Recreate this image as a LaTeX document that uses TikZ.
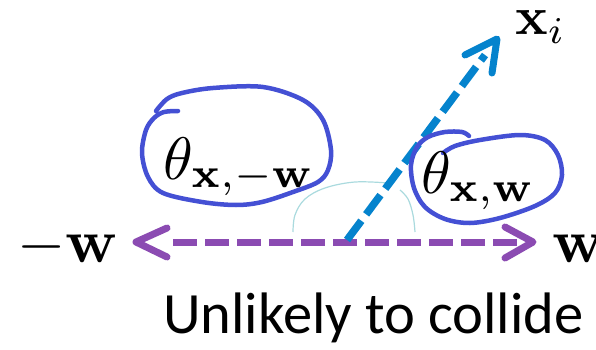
\documentclass[tikz,border=0pt]{standalone}
\usepackage[no-math]{fontspec}
\newfontfamily\carlito{Carlito}
\definecolor{vpurple}{RGB}{139,75,178}
\definecolor{vblue}{RGB}{5,131,205}
\definecolor{loopblue}{RGB}{68,80,212}
\definecolor{faintcyan}{RGB}{170,218,222}
\tikzset{
  purpleshaft/.style={draw=vpurple,line width=7pt,dash pattern=on 24pt off 8pt},
  purplehead/.style={draw=vpurple,line width=7pt,line cap=round,line join=round},
  blueshaft/.style={draw=vblue,line width=7.5pt,dash pattern=on 24pt off 8pt},
  bluehead/.style={draw=vblue,line width=7pt,line cap=round,line join=round},
  loopline/.style={draw=loopblue,line width=4.5pt,line cap=round,line join=round},
  arcline/.style={draw=faintcyan,line width=1.2pt},
  lbl/.style={inner sep=0pt,font=\fontsize{10}{12}\selectfont},
  caption/.style={inner sep=0pt,font=\carlito\fontsize{58.5}{64}\selectfont}
}
\begin{document}
\begin{tikzpicture}[x=1pt,y=-1pt]
\useasboundingbox (0,0) rectangle (596,350);
\clip (0,0) rectangle (596,350);
% coordinates
\coordinate (lt) at (136,242);
\coordinate (rt) at (533,242);
\coordinate (ls) at (173,242);
\coordinate (re) at (520,242);
\coordinate (o) at (347,240);
\coordinate (bt) at (497,39);
\coordinate (be) at (485,55);
% faint angle arcs
\draw[arcline] plot[smooth,tension=0.6] coordinates {(293,232) (295,215) (305,199) (325,188) (355,182) (388,183)};
\draw[arcline] plot[smooth,tension=0.6] coordinates {(400,190) (408,199) (413,215) (415,232)};
% purple double arrow
\draw[purpleshaft] (ls) -- (re);
\draw[purplehead] (167,228) -- (lt) -- (167,257);
\draw[purplehead] (505,227) -- (rt) -- (505,258);
% blue arrow
\draw[blueshaft] (o) -- (be);
\draw[bluehead] (465,55) -- (bt) -- (492,73);
% loops
\draw[loopline] plot[smooth,tension=0.55] coordinates {(156,111) (167,99) (182,93) (213,88) (263,87) (303,100) (323,120) (331,150) (328,170) (318,182) (293,192) (262,202) (236,205) (202,202) (163,193) (148,177) (142,153) (146,130) (154,118) (164,112) (178,111)};
\draw[loopline] plot[smooth,tension=0.55] coordinates {(443,153) (455,146) (480,140) (520,135) (545,140) (558,155) (562,175) (555,193) (535,206) (500,218) (470,223) (445,219) (425,207) (414,188) (411,165) (417,147) (428,137) (445,132) (462,132) (469,136)};
% labels
\node[lbl,anchor=base west] (tn) at (163,179) {\scalebox{6}{$\theta_{\mathbf{x},-\mathbf{w}}$}};
\node[lbl,anchor=base west] (tp) at (421,193) {\scalebox{6}{$\theta_{\mathbf{x},\mathbf{w}}$}};
\node[lbl,anchor=base west] (xi) at (515,35) {\scalebox{5.4}{$\mathbf{x}_i$}};
\node[lbl,anchor=base west] (mw) at (17,262) {\scalebox{6.2}{$-\mathbf{w}$}};
\node[lbl,anchor=base west] (pw) at (552,262) {\scalebox{6.2}{$\mathbf{w}$}};
\node[caption,anchor=base west] (cap) at (163,333) {Unlikely to collide};
\end{tikzpicture}
\end{document}
